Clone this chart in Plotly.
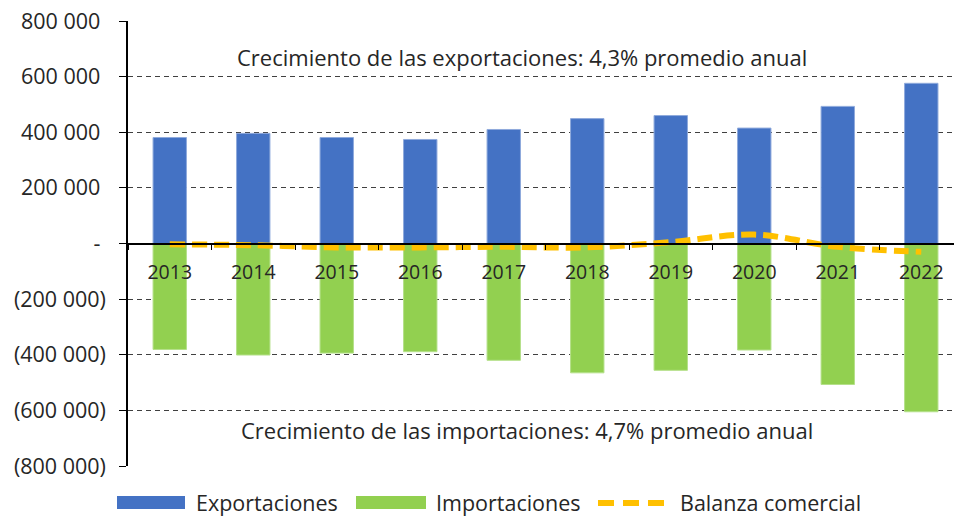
import plotly.graph_objects as go

years = ["2013", "2014", "2015", "2016", "2017", "2018", "2019", "2020", "2021", "2022"]
exportaciones = [381000, 396000, 381000, 374000, 410000, 449000, 460000, 415000, 493000, 576000]
importaciones = [-381000, -401000, -394000, -389000, -420000, -465000, -456000, -383000, -507000, -605000]
balanza = [-3000, -6000, -14000, -14000, -12000, -14000, 5000, 32000, -12000, -30000]

ytick_vals = [800000, 600000, 400000, 200000, 0, -200000, -400000, -600000, -800000]
ytick_text = ["800 000\u00a0", "600 000\u00a0", "400 000\u00a0", "200 000\u00a0", "-\u00a0",
              "(200 000)", "(400 000)", "(600 000)", "(800 000)"]

txt_export = "Crecimiento de las exportaciones: 4,3% promedio anual"
txt_import = "Crecimiento de las importaciones: 4,7% promedio anual"
legend_names = ["Exportaciones", "Importaciones", "Balanza comercial"]

BLUE = "#4472C4"
GREEN = "#92D050"
YELLOW = "#FFC000"
TEXT = "#262626"
FONT = "Open Sans"
TXT_SIZE = 22
NUM_SIZE = 19.5
YNUM_SIZE = 21.5
WEIGHT = 400

fig = go.Figure()
fig.add_trace(go.Bar(x=years, y=exportaciones, name=legend_names[0], width=0.4,
                     marker=dict(color=BLUE, line=dict(color="#8FAADC", width=1))))
fig.add_trace(go.Bar(x=years, y=importaciones, name=legend_names[1], width=0.4,
                     marker=dict(color=GREEN, line=dict(color="#B5E08A", width=1))))
fig.add_trace(go.Scatter(x=years, y=balanza, name=legend_names[2], mode="lines",
                         line=dict(color=YELLOW, width=6, dash="15px,7px", shape="spline", smoothing=1)))

W, H = 954, 517
L, R, T, B = 128, 0, 21, 51
pw = W - L - R
ph = H - T - B

def px(xp):
    return (xp - L) / pw

def py(yp):
    return (H - B - yp) / ph

shapes = [
    dict(type="rect", xref="paper", yref="paper", x0=px(117), x1=px(185), y0=py(509), y1=py(496),
         fillcolor=BLUE, line=dict(width=0)),
    dict(type="rect", xref="paper", yref="paper", x0=px(356), x1=px(426), y0=py(509), y1=py(496),
         fillcolor=GREEN, line=dict(width=0)),
    dict(type="line", xref="paper", yref="paper", x0=px(598), x1=px(666), y0=py(503), y1=py(503),
         line=dict(color=YELLOW, width=6, dash="16px,9px")),
]

annotations = [
    dict(text=txt_export, xref="paper", yref="y", x=px(522), y=670000, showarrow=False,
         font=dict(size=TXT_SIZE, color=TEXT, family=FONT, weight=WEIGHT)),
    dict(text=txt_import, xref="paper", yref="y", x=px(527), y=-670000, showarrow=False,
         font=dict(size=TXT_SIZE, color=TEXT, family=FONT, weight=WEIGHT)),
]
for name, xl in zip(legend_names, [194, 434, 678]):
    annotations.append(dict(text=name, xref="paper", yref="paper", x=px(xl), y=py(502),
                            xanchor="left", yanchor="middle", showarrow=False,
                            font=dict(size=21.5, color=TEXT, family=FONT, weight=WEIGHT)))

fig.update_layout(
    width=W, height=H,
    margin=dict(l=L, r=R, t=T, b=B),
    barmode="relative",
    plot_bgcolor="white", paper_bgcolor="white",
    showlegend=False,
    font=dict(family=FONT, size=NUM_SIZE, color=TEXT, weight=WEIGHT),
    shapes=shapes,
    annotations=annotations,
    xaxis=dict(
        type="category", range=[-0.5, 9.392],
        anchor="free", position=0.5,
        showline=True, linecolor="black", linewidth=1.5,
        ticks="outside", tickson="boundaries", ticklen=6, tickcolor="black",
        ticklabelstandoff=11,
        showgrid=False, zeroline=False,
        tickfont=dict(size=NUM_SIZE, color=TEXT, family=FONT, weight=WEIGHT),
    ),
    yaxis=dict(
        range=[-800000, 800000],
        tickvals=ytick_vals, ticktext=ytick_text,
        showline=True, linecolor="black", linewidth=1.5,
        ticks="outside", ticklen=7, tickcolor="black",
        ticklabelstandoff=9,
        showgrid=True, gridcolor="#404040", gridwidth=1, griddash="5px,4px",
        zeroline=False,
        tickfont=dict(size=YNUM_SIZE, color=TEXT, family=FONT, weight=WEIGHT),
    ),
)

fig.write_html("out.html", config={"displayModeBar": False},
               post_script="document.body.style.margin='0';document.body.style.overflow='hidden';")
